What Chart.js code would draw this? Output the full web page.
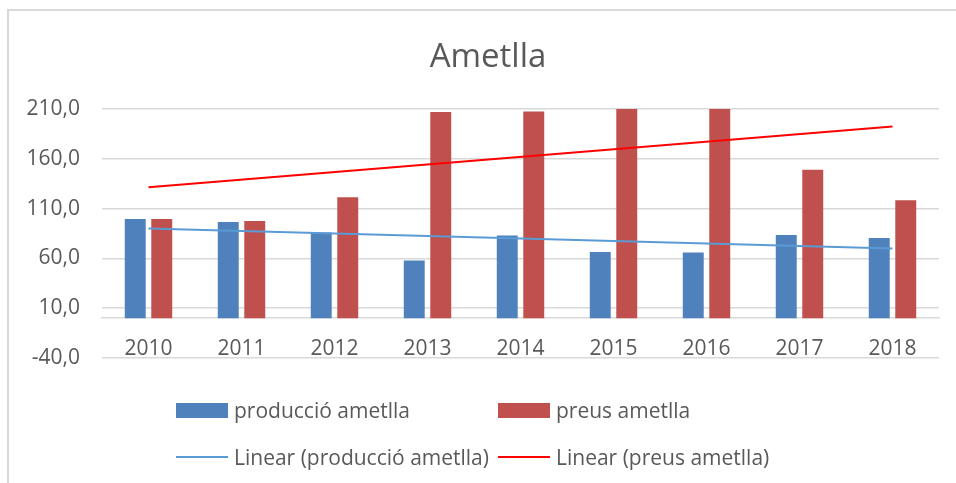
<!DOCTYPE html>
<html>
<head>
<meta charset="utf-8">
<script src="https://cdn.jsdelivr.net/npm/chart.js@4"></script>
<style>
  html, body { margin: 0; padding: 0; background: #fff; }
  #wrap { position: relative; width: 956px; height: 483px; overflow: hidden; }
  #frame { position: absolute; left: 7px; top: 9px; right: -5px; bottom: -5px;
           border-left: 2px solid #d9d9d9; border-top: 2px solid #d9d9d9; }
  #chart { position: absolute; left: 0; top: 0; }
  #title { position: absolute; left: 0; width: 976px; top: 35px; line-height: 40px; text-align: center;
           font-family: "Open Sans", sans-serif; font-size: 33px; color: #595959; }
  .leg { position: absolute; display: flex; align-items: center; height: 24px;
         font-family: "Open Sans", sans-serif; font-size: 21px; color: #595959; white-space: nowrap; }
  .sw { width: 52px; margin-right: 6px; }
</style>
</head>
<body>
<div id="wrap">
  <div id="frame"></div>
  <canvas id="chart" width="956" height="483"></canvas>
  <div id="title">Ametlla</div>
  <div id="legend"></div>
</div>
<script>
const years = ["2010", "2011", "2012", "2013", "2014", "2015", "2016", "2017", "2018"];
const produccio = [99.5, 96.5, 86, 58, 83, 66.5, 66, 83.5, 80.5];
const preus = [99.5, 97.5, 121.5, 207, 207.5, 211, 211, 149, 118.5];
// trend lines: start (2010) and end (2018)
const trendProduccio = [90, null, null, null, null, null, null, null, 70];
const trendPreus = [131.5, null, null, null, null, null, null, null, 192.5];

const FONT = "'Open Sans', sans-serif";
const GREY = "#595959";

const fmt = (v) => v.toFixed(1).replace(".", ",");

const ctx = document.getElementById("chart").getContext("2d");
const chart = new Chart(ctx, {
  type: "bar",
  data: {
    labels: years,
    datasets: [
      {
        label: "producció ametlla",
        data: produccio,
        backgroundColor: "#4f81bd",
        order: 2,
      },
      {
        label: "preus ametlla",
        data: preus,
        backgroundColor: "#c0504d",
        order: 2,
      },
      {
        type: "line",
        label: "Linear (producció ametlla)",
        data: trendProduccio,
        borderColor: "#5b9bd5",
        borderWidth: 2,
        pointRadius: 0,
        spanGaps: true,
        order: 1,
      },
      {
        type: "line",
        label: "Linear (preus ametlla)",
        data: trendPreus,
        borderColor: "#ff0000",
        borderWidth: 2,
        pointRadius: 0,
        spanGaps: true,
        order: 0,
      },
    ],
  },
  options: {
    responsive: false,
    animation: false,
    layout: { padding: { top: 109, left: 0, right: 17, bottom: 125 } },
    datasets: {
      bar: { categoryPercentage: 0.57, barPercentage: 0.79 },
    },
    plugins: {
      legend: { display: false },
      tooltip: { enabled: false },
      title: { display: false },
    },
    scales: {
      x: {
        position: { y: 0 },
        grid: { display: false, drawTicks: false },
        border: { display: true, color: "#d9d9d9", width: 1.5 },
        ticks: { color: GREY, font: { family: FONT, size: 21 }, padding: 18 },
      },
      y: {
        min: -40,
        max: 210,
        afterFit: (s) => { s.width = 102; },
        border: { display: false },
        grid: { color: "#d9d9d9", lineWidth: 1.5, drawTicks: false },
        ticks: {
          stepSize: 50,
          color: GREY,
          padding: 22,
          font: { family: FONT, size: 21 },
          callback: (v) => fmt(v),
        },
      },
    },
  },
});

// legend laid out in two columns like the original
const legend = document.getElementById("legend");
const colX = [176, 498];
const rowY = [398, 445];
chart.data.datasets.forEach((ds, i) => {
  const item = document.createElement("div");
  item.className = "leg";
  item.style.left = colX[i % 2] + "px";
  item.style.top = rowY[Math.floor(i / 2)] + "px";
  const sw = document.createElement("span");
  sw.className = "sw";
  if (ds.type === "line") {
    sw.style.height = "2px";
    sw.style.background = ds.borderColor;
  } else {
    sw.style.height = "15px";
    sw.style.background = ds.backgroundColor;
  }
  const txt = document.createElement("span");
  txt.textContent = ds.label;
  item.appendChild(sw);
  item.appendChild(txt);
  legend.appendChild(item);
});
</script>
</body>
</html>
